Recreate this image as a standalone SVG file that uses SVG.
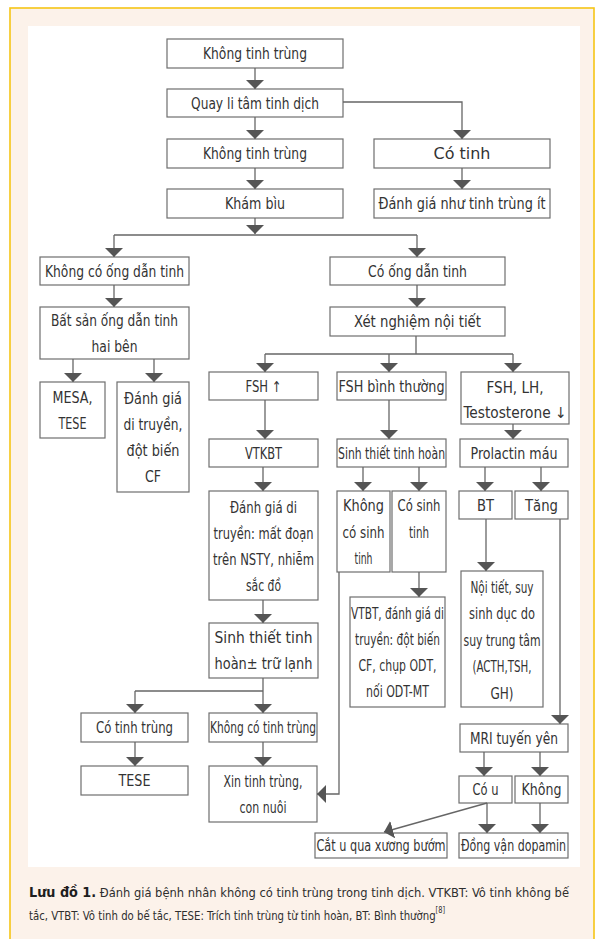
<svg xmlns="http://www.w3.org/2000/svg" width="598" height="939" viewBox="0 0 598 939">
<style>
.b{fill:#fff;stroke:#6e6e6e;stroke-width:1.2}
.t{font-family:"Liberation Sans Narrow","DejaVu Sans Condensed","Liberation Sans",sans-serif;font-size:15px;fill:#333;text-anchor:middle}
.c{fill:none;stroke:#666;stroke-width:1.3}
.cap{font-family:"Liberation Sans Narrow","DejaVu Sans Condensed","Liberation Sans",sans-serif;font-size:13px;fill:#2e2e2e}
</style>
<defs>
<marker id="ah" viewBox="0 0 9 18" refX="9" refY="9" markerWidth="9" markerHeight="18" markerUnits="userSpaceOnUse" orient="auto">
<path d="M0,0 L9,9 L0,18 z" fill="#555"/>
</marker>
</defs>
<rect x="0" y="0" width="598" height="939" fill="#fff"/>
<rect x="10" y="8" width="584" height="940" fill="#fcf2ea" stroke="#f6c516" stroke-width="1.6"/>
<rect x="28" y="26" width="552" height="841" fill="#fff"/>

<g id="n1"><rect class="b" x="167" y="39" width="176" height="29"/><text class="t" x="255" y="59" textLength="104" lengthAdjust="spacingAndGlyphs">Không tinh trùng</text></g>
<g id="n2"><rect class="b" x="167" y="89" width="176" height="28"/><text class="t" x="255" y="108.5" textLength="128" lengthAdjust="spacingAndGlyphs">Quay li tâm tinh dịch</text></g>
<g id="n3"><rect class="b" x="167" y="139" width="176" height="29"/><text class="t" x="255" y="159" textLength="104" lengthAdjust="spacingAndGlyphs">Không tinh trùng</text></g>
<g id="n4"><rect class="b" x="374" y="139" width="176" height="29"/><text class="t" x="462" y="159" textLength="57" lengthAdjust="spacingAndGlyphs">Có tinh</text></g>
<g id="n5"><rect class="b" x="167" y="189" width="176" height="29"/><text class="t" x="255" y="209" textLength="60" lengthAdjust="spacingAndGlyphs">Khám bìu</text></g>
<g id="n6"><rect class="b" x="374" y="189" width="176" height="29"/><text class="t" x="462" y="209" textLength="167" lengthAdjust="spacingAndGlyphs">Đánh giá như tinh trùng ít</text></g>
<g id="n7"><rect class="b" x="40" y="257" width="149" height="28"/><text class="t" x="114.5" y="276.5" textLength="139" lengthAdjust="spacingAndGlyphs">Không có ống dẫn tinh</text></g>
<g id="n8"><rect class="b" x="330" y="257" width="175" height="28"/><text class="t" x="417.5" y="276.5" textLength="99" lengthAdjust="spacingAndGlyphs">Có ống dẫn tinh</text></g>
<g id="n9"><rect class="b" x="40" y="307" width="149" height="52"/><text class="t" x="114.5" y="325.5" textLength="127" lengthAdjust="spacingAndGlyphs">Bất sản ống dẫn tinh</text><text class="t" x="114.5" y="351.5" textLength="46" lengthAdjust="spacingAndGlyphs">hai bên</text></g>
<g id="n10"><rect class="b" x="330" y="307" width="175" height="29"/><text class="t" x="417.5" y="327" textLength="127" lengthAdjust="spacingAndGlyphs">Xét nghiệm nội tiết</text></g>
<g id="n11"><rect class="b" x="40" y="382" width="65" height="56"/><text class="t" x="72.5" y="402.5" textLength="40" lengthAdjust="spacingAndGlyphs">MESA,</text><text class="t" x="72.5" y="428.5" textLength="28" lengthAdjust="spacingAndGlyphs">TESE</text></g>
<g id="n12"><rect class="b" x="117" y="382" width="72" height="110"/><text class="t" x="153" y="403.5" textLength="58" lengthAdjust="spacingAndGlyphs">Đánh giá</text><text class="t" x="153" y="429.5" textLength="59" lengthAdjust="spacingAndGlyphs">di truyền,</text><text class="t" x="153" y="455.5" textLength="53" lengthAdjust="spacingAndGlyphs">đột biến</text><text class="t" x="153" y="481.5" textLength="16" lengthAdjust="spacingAndGlyphs">CF</text></g>
<g id="n13"><rect class="b" x="209" y="372" width="109" height="28"/><text class="t" x="263.5" y="391.5" textLength="36" lengthAdjust="spacingAndGlyphs">FSH ↑</text></g>
<g id="n14"><rect class="b" x="337" y="372" width="109" height="28"/><text class="t" x="391.5" y="391.5" textLength="106" lengthAdjust="spacingAndGlyphs">FSH bình thường</text></g>
<g id="n15"><rect class="b" x="461" y="372" width="108" height="52"/><text class="t" x="515" y="392.5" textLength="57" lengthAdjust="spacingAndGlyphs">FSH, LH,</text><text class="t" x="515" y="417.5" textLength="103" lengthAdjust="spacingAndGlyphs">Testosterone ↓</text></g>
<g id="n16"><rect class="b" x="209" y="439" width="109" height="28"/><text class="t" x="263.5" y="458.5" textLength="37" lengthAdjust="spacingAndGlyphs">VTKBT</text></g>
<g id="n17"><rect class="b" x="337" y="439" width="109" height="28"/><text class="t" x="391.5" y="458.5" textLength="107" lengthAdjust="spacingAndGlyphs">Sinh thiết tinh hoàn</text></g>
<g id="n18"><rect class="b" x="460" y="439" width="108" height="28"/><text class="t" x="514" y="458.5" textLength="87" lengthAdjust="spacingAndGlyphs">Prolactin máu</text></g>
<g id="n19"><rect class="b" x="209" y="491" width="109" height="109"/><text class="t" x="263.5" y="512.5" textLength="67" lengthAdjust="spacingAndGlyphs">Đánh giá di</text><text class="t" x="263.5" y="538.5" textLength="100" lengthAdjust="spacingAndGlyphs">truyền: mất đoạn</text><text class="t" x="263.5" y="564.5" textLength="101" lengthAdjust="spacingAndGlyphs">trên NSTY, nhiễm</text><text class="t" x="263.5" y="590.5" textLength="35" lengthAdjust="spacingAndGlyphs">sắc đồ</text></g>
<g id="n20"><rect class="b" x="337" y="491" width="53" height="81"/><text class="t" x="363.5" y="510.5" textLength="41" lengthAdjust="spacingAndGlyphs">Không</text><text class="t" x="363.5" y="537.5" textLength="42" lengthAdjust="spacingAndGlyphs">có sinh</text><text class="t" x="363.5" y="563.5" textLength="18" lengthAdjust="spacingAndGlyphs">tinh</text></g>
<g id="n21"><rect class="b" x="392" y="491" width="54" height="81"/><text class="t" x="419" y="510.5" textLength="43" lengthAdjust="spacingAndGlyphs">Có sinh</text><text class="t" x="419" y="537.5" textLength="20" lengthAdjust="spacingAndGlyphs">tinh</text></g>
<g id="n22"><rect class="b" x="459" y="491" width="53" height="28"/><text class="t" x="485.5" y="510.5" textLength="17" lengthAdjust="spacingAndGlyphs">BT</text></g>
<g id="n23"><rect class="b" x="515" y="491" width="53" height="28"/><text class="t" x="541.5" y="510.5" textLength="33" lengthAdjust="spacingAndGlyphs">Tăng</text></g>
<g id="n24"><rect class="b" x="350" y="597" width="95" height="110"/><text class="t" x="397.5" y="618.5" textLength="93" lengthAdjust="spacingAndGlyphs">VTBT, đánh giá di</text><text class="t" x="397.5" y="644.5" textLength="85" lengthAdjust="spacingAndGlyphs">truyền: đột biến</text><text class="t" x="397.5" y="670.5" textLength="78" lengthAdjust="spacingAndGlyphs">CF, chụp ODT,</text><text class="t" x="397.5" y="696.5" textLength="63" lengthAdjust="spacingAndGlyphs">nối ODT-MT</text></g>
<g id="n25"><rect class="b" x="461" y="571" width="82" height="136"/><text class="t" x="502" y="592.5" textLength="63" lengthAdjust="spacingAndGlyphs">Nội tiết, suy</text><text class="t" x="502" y="618.5" textLength="66" lengthAdjust="spacingAndGlyphs">sinh dục do</text><text class="t" x="502" y="645.5" textLength="77" lengthAdjust="spacingAndGlyphs">suy trung tâm</text><text class="t" x="502" y="671.5" textLength="59" lengthAdjust="spacingAndGlyphs">(ACTH,TSH,</text><text class="t" x="502" y="698.5" textLength="23" lengthAdjust="spacingAndGlyphs">GH)</text></g>
<g id="n26"><rect class="b" x="209" y="623" width="109" height="55"/><text class="t" x="263.5" y="642.5" textLength="98" lengthAdjust="spacingAndGlyphs">Sinh thiết tinh</text><text class="t" x="263.5" y="668.5" textLength="98" lengthAdjust="spacingAndGlyphs">hoàn± trữ lạnh</text></g>
<g id="n27"><rect class="b" x="81" y="713" width="107" height="29"/><text class="t" x="134.5" y="733" textLength="77" lengthAdjust="spacingAndGlyphs">Có tinh trùng</text></g>
<g id="n28"><rect class="b" x="209" y="713" width="108" height="29"/><text class="t" x="263" y="733" textLength="106" lengthAdjust="spacingAndGlyphs">Không có tinh trùng</text></g>
<g id="n29"><rect class="b" x="460" y="724" width="108" height="28"/><text class="t" x="514" y="743.5" textLength="88" lengthAdjust="spacingAndGlyphs">MRI tuyến yên</text></g>
<g id="n30"><rect class="b" x="81" y="766" width="107" height="29"/><text class="t" x="134.5" y="786" textLength="32" lengthAdjust="spacingAndGlyphs">TESE</text></g>
<g id="n31"><rect class="b" x="209" y="766" width="108" height="56"/><text class="t" x="263" y="786.5" textLength="79" lengthAdjust="spacingAndGlyphs">Xin tinh trùng,</text><text class="t" x="263" y="812.5" textLength="47" lengthAdjust="spacingAndGlyphs">con nuôi</text></g>
<g id="n32"><rect class="b" x="459" y="776" width="53" height="27"/><text class="t" x="485.5" y="795" textLength="26" lengthAdjust="spacingAndGlyphs">Có u</text></g>
<g id="n33"><rect class="b" x="515" y="776" width="53" height="27"/><text class="t" x="541.5" y="795" textLength="40" lengthAdjust="spacingAndGlyphs">Không</text></g>
<g id="n34"><rect class="b" x="315" y="833" width="132" height="25"/><text class="t" x="381" y="851" textLength="129" lengthAdjust="spacingAndGlyphs">Cắt u qua xương bướm</text></g>
<g id="n35"><rect class="b" x="459" y="833" width="109" height="25"/><text class="t" x="513.5" y="851" textLength="105" lengthAdjust="spacingAndGlyphs">Đồng vận dopamin</text></g>

<g id="connectors" class="c">
<path d="M255,68 V89" marker-end="url(#ah)"/>
<path d="M255,117 V139" marker-end="url(#ah)"/>
<path d="M343,102 H462 V139" marker-end="url(#ah)"/>
<path d="M462,168 V189" marker-end="url(#ah)"/>
<path d="M255,168 V189" marker-end="url(#ah)"/>
<path d="M255,218 V234" marker-end="url(#ah)"/>
<path d="M114,235 H417"/>
<path d="M114,235 V257" marker-end="url(#ah)"/>
<path d="M417,235 V257" marker-end="url(#ah)"/>
<path d="M114,285 V307" marker-end="url(#ah)"/>
<path d="M417,285 V307" marker-end="url(#ah)"/>
<path d="M73,359 V382" marker-end="url(#ah)"/>
<path d="M154,359 V382" marker-end="url(#ah)"/>
<path d="M416,336 V354"/>
<path d="M265,354 H513"/>
<path d="M265,354 V372" marker-end="url(#ah)"/>
<path d="M389,354 V372" marker-end="url(#ah)"/>
<path d="M513,354 V372" marker-end="url(#ah)"/>
<path d="M265,400 V439" marker-end="url(#ah)"/>
<path d="M389,400 V439" marker-end="url(#ah)"/>
<path d="M513,424 V439" marker-end="url(#ah)"/>
<path d="M263,467 V491" marker-end="url(#ah)"/>
<path d="M363,467 V491" marker-end="url(#ah)"/>
<path d="M419,467 V491" marker-end="url(#ah)"/>
<path d="M485,467 V491" marker-end="url(#ah)"/>
<path d="M541,467 V491" marker-end="url(#ah)"/>
<path d="M263,600 V623" marker-end="url(#ah)"/>
<path d="M419,572 V597" marker-end="url(#ah)"/>
<path d="M486,519 V571" marker-end="url(#ah)"/>
<path d="M560,519 V724" marker-end="url(#ah)"/>
<path d="M263,678 V713" marker-end="url(#ah)"/>
<path d="M135,691 H263"/>
<path d="M135,691 V713" marker-end="url(#ah)"/>
<path d="M135,742 V766" marker-end="url(#ah)"/>
<path d="M263,742 V766" marker-end="url(#ah)"/>
<path d="M339,572 V794 H317" marker-end="url(#ah)"/>
<path d="M484,752 V776" marker-end="url(#ah)"/>
<path d="M540,752 V776" marker-end="url(#ah)"/>
<path d="M487,803 V833" marker-end="url(#ah)"/>
<path d="M540,803 V833" marker-end="url(#ah)"/>
<path d="M487,803 L384,832" marker-end="url(#ah)"/>
</g>

<g id="caption">
<text class="cap" x="29" y="897" textLength="540" lengthAdjust="spacingAndGlyphs"><tspan font-size="14.5" font-weight="bold" fill="#1e1e1e">Lưu đồ 1.</tspan> Đánh giá bệnh nhân không có tinh trùng trong tinh dịch. VTKBT: Vô tinh không bế</text>
<text class="cap" x="29" y="920" textLength="416" lengthAdjust="spacingAndGlyphs">tắc, VTBT: Vô tinh do bế tắc, TESE: Trích tinh trùng từ tinh hoàn, BT: Bình thường<tspan font-size="8.5" dy="-7">[8]</tspan></text>
</g>
</svg>
